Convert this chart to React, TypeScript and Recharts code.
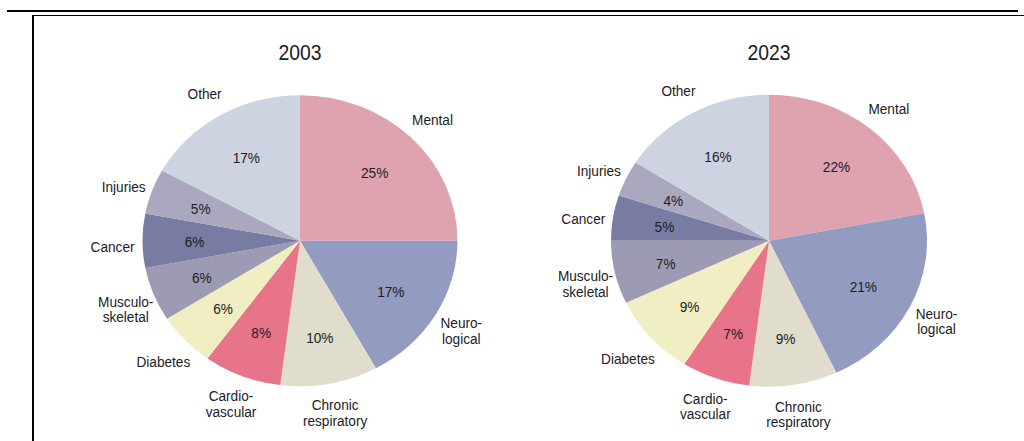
import { PieChart, Pie, Cell } from "recharts";

// categories, clockwise from 12 o'clock
const categories = [
  "Mental",
  "Neuro-\nlogical",
  "Chronic\nrespiratory",
  "Cardio-\nvascular",
  "Diabetes",
  "Musculo-\nskeletal",
  "Cancer",
  "Injuries",
  "Other",
];

const values2003 = [25, 17, 10, 8, 6, 6, 6, 5, 17];
const values2023 = [22, 21, 9, 7, 9, 7, 5, 4, 16];

const sliceColors = [
  "#dfa3b0",
  "#939bc0",
  "#e0ddcc",
  "#e8748a",
  "#f0eec2",
  "#9d9ab3",
  "#787ca3",
  "#a9a8bf",
  "#cdd3e0",
];

const years = ["2003", "2023"];

// the reference pies are slightly flattened ellipses
const SQUASH = 0.924;
const NARROW = 0.88;
const FONT = "'Liberation Sans', Arial, sans-serif";
const TEXT = "#1c1c24";

const toData = (vals: number[]) =>
  categories.map((name, i) => ({ name, value: vals[i] }));

const data2003 = toData(values2003);
const data2023 = toData(values2023);

const RAD = Math.PI / 180;

function renderLabel(props: any) {
  const { cx, cy, midAngle, outerRadius, name, value } = props;
  const cos = Math.cos(-midAngle * RAD);
  const sin = Math.sin(-midAngle * RAD);
  const px = cx + outerRadius * 0.67 * cos;
  const py = cy + outerRadius * 0.67 * sin + 1.5;
  // names on the left sit a little lower in the original
  const drop = 2 + 4 * Math.pow(Math.max(0, -cos), 4);
  const nx = cx + outerRadius * 1.19 * cos;
  const ny = cy + outerRadius * 1.19 * sin + drop;
  const lines = String(name).split("\n");
  const lh = 15.5;
  const tf = (x: number, y: number) =>
    `translate(${x},${y}) scale(${NARROW},${1 / SQUASH})`;
  return (
    <g>
      <text
        transform={tf(px, py)}
        textAnchor="middle"
        dominantBaseline="central"
        fontSize={15.5}
        fontFamily={FONT}
        fill={TEXT}
      >
        {value}%
      </text>
      <text
        transform={tf(nx, ny)}
        textAnchor="middle"
        dominantBaseline="central"
        fontSize={15.5}
        fontFamily={FONT}
        fill={TEXT}
      >
        {lines.map((l, i) => (
          <tspan key={i} x={0} y={(i - (lines.length - 1) / 2) * lh}>
            {l}
          </tspan>
        ))}
      </text>
    </g>
  );
}

export default function App() {
  return (
    <div
      style={{
        position: "absolute",
        left: 0,
        top: 0,
        width: 1024,
        height: 441,
        overflow: "hidden",
        background: "#fff",
      }}
    >
      {/* top rules and frame */}
      <div style={{ position: "absolute", left: 7, top: 10, width: 1011, height: 2, background: "#000" }} />
      <div style={{ position: "absolute", left: 32, top: 15, width: 992, height: 1, background: "#000" }} />
      <div style={{ position: "absolute", left: 32, top: 15, width: 2, height: 430, background: "#000" }} />

      {/* titles */}
      {years.map((y, i) => (
        <div
          key={y}
          style={{
            position: "absolute",
            left: i === 0 ? 300 : 769,
            top: 53,
            transform: `translate(-50%, -50%) scaleX(${NARROW})`,
            fontFamily: FONT,
            fontSize: 22,
            color: TEXT,
            whiteSpace: "nowrap",
          }}
        >
          {y}
        </div>
      ))}

      <div
        style={{
          position: "absolute",
          left: 0,
          top: 0,
          transform: `scaleY(${SQUASH})`,
          transformOrigin: "0 0",
        }}
      >
        <PieChart width={1024} height={477} margin={{ top: 0, right: 0, bottom: 0, left: 0 }}>
          <Pie
            data={data2003}
            dataKey="value"
            nameKey="name"
            cx={300}
            cy={260.5}
            outerRadius={157.5}
            startAngle={90}
            endAngle={-270}
            stroke="none"
            label={renderLabel}
            labelLine={false}
            isAnimationActive={false}
          >
            {data2003.map((_, i) => (
              <Cell key={i} fill={sliceColors[i]} />
            ))}
          </Pie>
          <Pie
            data={data2023}
            dataKey="value"
            nameKey="name"
            cx={769}
            cy={260.5}
            outerRadius={158}
            startAngle={90}
            endAngle={-270}
            stroke="none"
            label={renderLabel}
            labelLine={false}
            isAnimationActive={false}
          >
            {data2023.map((_, i) => (
              <Cell key={i} fill={sliceColors[i]} />
            ))}
          </Pie>
        </PieChart>
      </div>
    </div>
  );
}
